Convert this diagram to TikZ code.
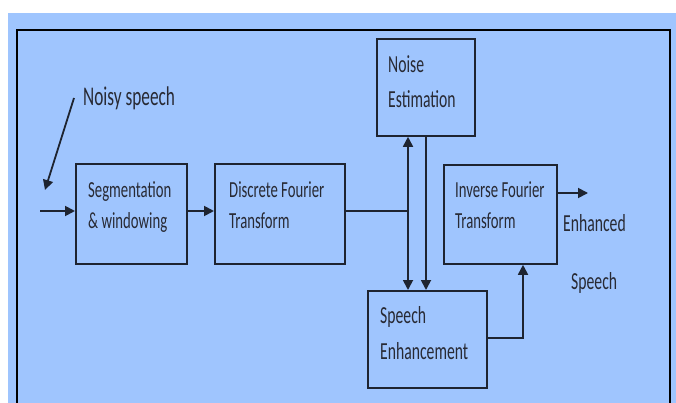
\documentclass[tikz,border=0pt]{standalone}
\usepackage{fontspec}
\setmainfont[FakeStretch=0.64]{Carlito}
\usetikzlibrary{arrows.meta}
\definecolor{bg}{RGB}{159,197,254}
\definecolor{ln}{RGB}{30,36,48}
\definecolor{tx}{RGB}{40,42,52}
\tikzset{
  box/.style={draw=ln, line width=1.8pt, fill=none, inner sep=0pt, anchor=north west},
  lbl/.style={anchor=base west, inner sep=0pt, text=tx, font=\fontsize{23}{27}\selectfont},
  biglbl/.style={lbl, font=\fontsize{27}{31}\selectfont},
  midlbl/.style={lbl, font=\fontsize{24.5}{29}\selectfont},
  conn/.style={draw=ln, line width=1.8pt},
  arr/.style={conn, -{Triangle[length=10pt,width=10pt]}}
}
\begin{document}
\begin{tikzpicture}[x=1pt,y=-1pt]
\useasboundingbox (0,0) rectangle (676,403);
\fill[white] (0,0) rectangle (676,403);
\fill[bg] (8,13) rectangle (676,403);
\draw[black, line width=2pt] (17,403) -- (17,30) -- (670,30) -- (670,403);
% boxes
\node[box, minimum width=111pt, minimum height=100pt] (seg) at (75,163) {};
\node[box, minimum width=130pt, minimum height=100pt] (dft) at (214,163) {};
\node[box, minimum width=98pt, minimum height=97pt] (noise) at (376,38) {};
\node[box, minimum width=113pt, minimum height=99pt] (inv) at (443,164) {};
\node[box, minimum width=119pt, minimum height=97pt] (enh) at (367,290) {};
% texts
\node[biglbl] (tnoisy) at (83,106) {Noisy speech};
\node[lbl] (tseg1) at (88,197) {Segmentation};
\node[lbl] (tseg2) at (88,228) {\& windowing};
\node[lbl] (tdft1) at (229,197) {Discrete Fourier};
\node[lbl] (tdft2) at (229,228) {Transform};
\node[midlbl] (tno1) at (388,73) {Noise};
\node[midlbl] (tno2) at (388,108) {Estimation};
\node[lbl] (tinv1) at (455,197) {Inverse Fourier};
\node[lbl] (tinv2) at (455,228) {Transform};
\node[midlbl] (tenh1) at (380,323) {Speech};
\node[midlbl] (tenh2) at (380,359) {Enhancement};
\node[midlbl] (tout1) at (563,231) {Enhanced};
\node[midlbl] (tout2) at (571,289) {Speech};
% coordinates
\coordinate (in) at (40,211);
\coordinate (j) at (408,211);
\coordinate (k) at (426,211);
\coordinate (turn) at (523,338);
\coordinate (out) at (588,193);
\coordinate (ns) at (74,98);
\coordinate (nsend) at (45,190);
% connectors
\draw[arr] (in) -- (in -| seg.west);
\draw[arr] (seg.east |- in) -- (dft.west |- in);
\draw[conn] (dft.east |- in) -- (j);
\draw[arr] (j) -- (j |- noise.south);
\draw[arr] (j) -- (j |- enh.north);
\draw[arr] (k |- noise.south) -- (k |- enh.north);
\draw[arr] (enh.east |- turn) -- (turn) -- (turn |- inv.south);
\draw[arr] (inv.east |- out) -- (out);
\draw[arr] (ns) -- (nsend);
\end{tikzpicture}
\end{document}
